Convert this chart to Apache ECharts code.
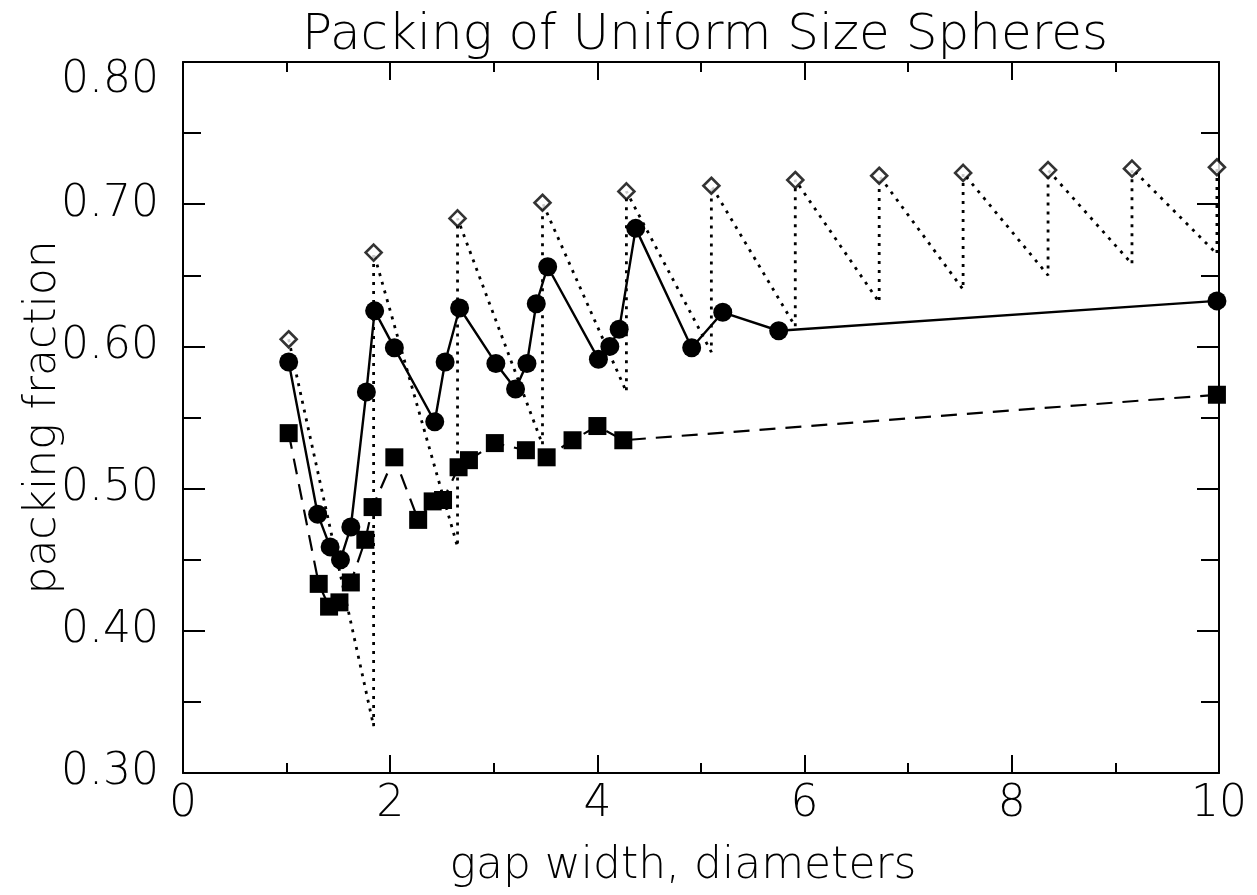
<!DOCTYPE html>
<html>
<head>
<meta charset="utf-8">
<title>Packing of Uniform Size Spheres</title>
<script src="https://cdn.jsdelivr.net/npm/echarts@6/dist/echarts.min.js"></script>
<style>
  html, body { margin: 0; padding: 0; background: #fff; }
  #chart { width: 1257px; height: 895px; }
</style>
</head>
<body>
<div id="chart"></div>
<script>
// ==========================
// data
// ==========================
var xTicks = [0, 2, 4, 6, 8, 10];
var yTicks = [0.30, 0.40, 0.50, 0.60, 0.70, 0.80];

// open diamonds (ideal layers) and the low ends of the dotted saw teeth
var diamondX = [1.02, 1.84, 2.65, 3.47, 4.28, 5.10, 5.91, 6.72, 7.53, 8.35, 9.16, 9.98];
var diamondY = [0.605, 0.666, 0.690, 0.701, 0.709, 0.713, 0.717, 0.720, 0.722, 0.724, 0.725, 0.726];
var sawLowY = [0.333, 0.459, 0.531, 0.568, 0.596, 0.614, 0.631, 0.640, 0.650, 0.658, 0.665];

// filled circles, solid line
var circleX = [1.02, 1.30, 1.42, 1.52, 1.62, 1.77, 1.85, 2.04, 2.43, 2.53, 2.67, 3.02, 3.21, 3.32, 3.41, 3.52, 4.01, 4.12, 4.21, 4.37, 4.91, 5.21, 5.75, 9.98];
var circleY = [0.589, 0.482, 0.459, 0.450, 0.473, 0.568, 0.625, 0.599, 0.547, 0.589, 0.627, 0.588, 0.570, 0.588, 0.630, 0.656, 0.591, 0.600, 0.612, 0.683, 0.599, 0.624, 0.611, 0.632];

// filled squares, dashed line
var squareX = [1.02, 1.31, 1.41, 1.51, 1.62, 1.76, 1.83, 2.04, 2.27, 2.41, 2.51, 2.66, 2.76, 3.01, 3.31, 3.51, 3.76, 4.00, 4.25, 9.98];
var squareY = [0.539, 0.433, 0.417, 0.420, 0.434, 0.464, 0.487, 0.522, 0.478, 0.491, 0.492, 0.515, 0.520, 0.532, 0.527, 0.522, 0.534, 0.544, 0.534, 0.566];

function pairs(xs, ys) {
    var out = [];
    for (var i = 0; i < xs.length; i++) out.push([xs[i], ys[i]]);
    return out;
}

// saw tooth: diamond -> down to next x -> straight up to next diamond
var sawData = [[diamondX[0], diamondY[0]]];
for (var i = 1; i < diamondX.length; i++) {
    sawData.push([diamondX[i], sawLowY[i - 1]]);
    sawData.push([diamondX[i], diamondY[i]]);
}

var FONT = '"DejaVu Sans", sans-serif';
var INK = '#000';

function xAxisOf(pos, labels) {
    return {
        type: 'value', position: pos,
        min: xTicks[0], max: xTicks[xTicks.length - 1], interval: xTicks[1] - xTicks[0],
        axisLine: { show: true, onZero: false, lineStyle: { color: INK, width: 2 } },
        axisTick: { show: true, inside: true, length: 18, lineStyle: { color: INK, width: 2 } },
        minorTick: { show: true, splitNumber: 2, length: 10, lineStyle: { color: INK, width: 2 } },
        splitLine: { show: false },
        axisLabel: { show: labels, color: INK, fontFamily: FONT, fontSize: 44, fontWeight: 300, margin: 10 },
        name: labels ? 'gap width, diameters' : '',
        nameLocation: 'middle', nameGap: 72,
        nameTextStyle: { color: INK, fontFamily: FONT, fontSize: 44, fontWeight: 300, padding: [0, 36, 0, 0] }
    };
}

function yAxisOf(pos, labels) {
    return {
        type: 'value', position: pos,
        min: yTicks[0], max: yTicks[yTicks.length - 1], interval: 0.1,
        axisLine: { show: true, onZero: false, lineStyle: { color: INK, width: 2 } },
        axisTick: { show: true, inside: true, length: 22, lineStyle: { color: INK, width: 2 } },
        minorTick: { show: true, splitNumber: 2, length: 18, lineStyle: { color: INK, width: 2 } },
        splitLine: { show: false },
        axisLabel: {
            show: labels, color: INK, fontFamily: FONT, fontSize: 44, fontWeight: 300, margin: 24,
            formatter: function (v) {
                // top label sits a little lower in the original
                if (Math.abs(v - yTicks[yTicks.length - 1]) < 1e-9) return '{top|' + v.toFixed(2) + '}';
                return v.toFixed(2);
            },
            rich: { top: { fontFamily: FONT, fontSize: 44, fontWeight: 300, color: INK, padding: [38, 0, 0, 0] } }
        },
        name: labels ? 'packing fraction' : '',
        nameLocation: 'middle', nameGap: 117, nameRotate: 90, nameMoveOverlap: false,
        nameTextStyle: { color: INK, fontFamily: FONT, fontSize: 44, fontWeight: 300 }
    };
}

var chart = echarts.init(document.getElementById('chart'));
var option = {
    backgroundColor: '#fff',
    animation: false,
    title: {
        text: 'Packing of Uniform Size Spheres',
        left: 700, top: 6, textAlign: 'center',
        textStyle: { color: INK, fontFamily: FONT, fontSize: 50, fontWeight: 300 }
    },
    grid: { left: 183, right: 38, top: 62, bottom: 122 },
    xAxis: [xAxisOf('bottom', true), xAxisOf('top', false)],
    yAxis: [yAxisOf('left', true), yAxisOf('right', false)],
    series: [
        {
            name: 'saw', type: 'line', data: sawData, z: 1,
            symbol: 'none',
            lineStyle: { color: INK, width: 2.8, type: [3, 6] }
        },
        {
            name: 'squares', type: 'line', data: pairs(squareX, squareY), z: 2,
            symbol: 'rect', symbolSize: 18,
            itemStyle: { color: INK },
            lineStyle: { color: INK, width: 2.2, type: [16, 10] }
        },
        {
            name: 'circles', type: 'line', data: pairs(circleX, circleY), z: 3,
            symbol: 'circle', symbolSize: 19,
            itemStyle: { color: INK },
            lineStyle: { color: INK, width: 2.4 }
        },
        {
            name: 'diamonds', type: 'scatter', data: pairs(diamondX, diamondY), z: 4,
            symbol: 'diamond', symbolSize: 16,
            itemStyle: { color: '#fff', borderColor: INK, borderWidth: 2.6 }
        }
    ]
};
chart.setOption(option);
</script>
</body>
</html>
